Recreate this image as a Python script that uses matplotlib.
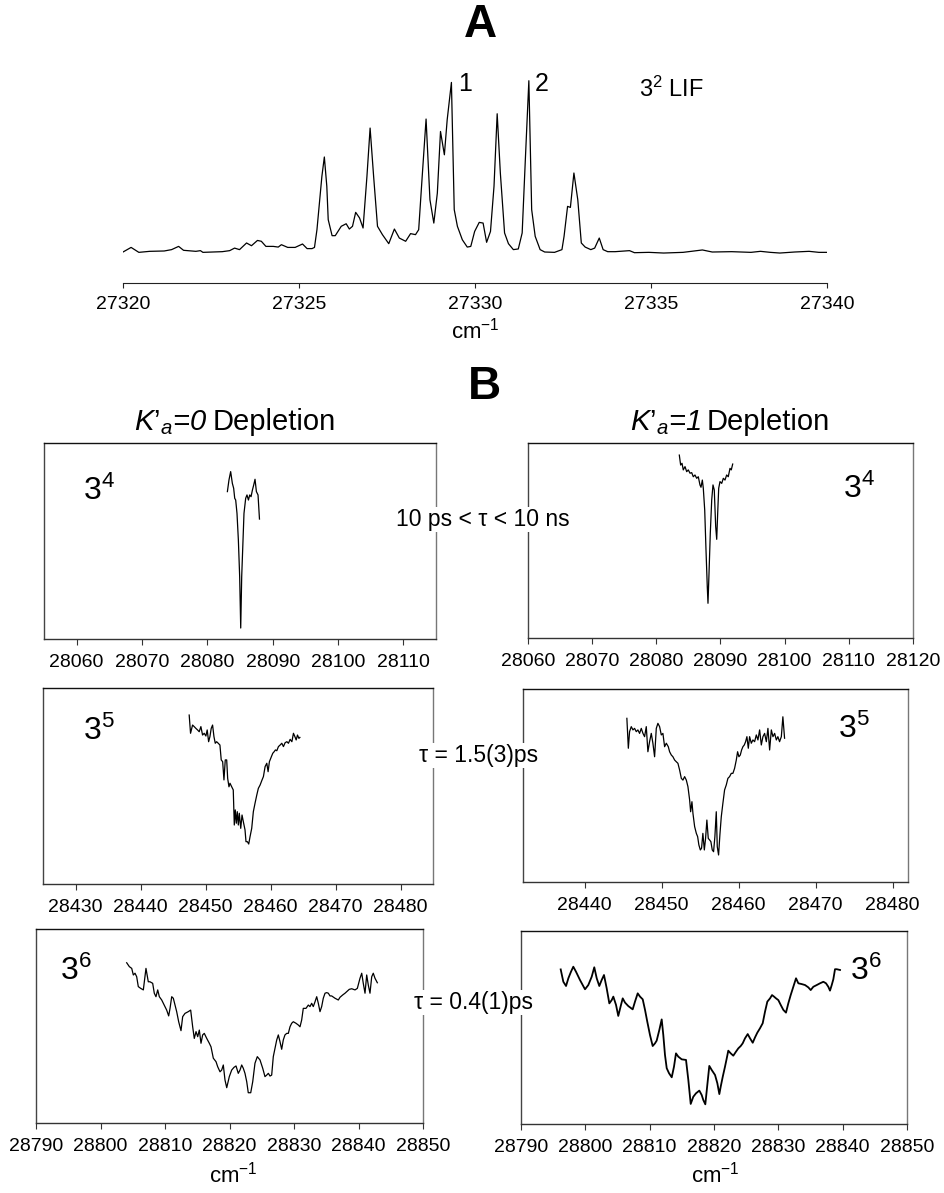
import numpy as np
import matplotlib
matplotlib.use("Agg")
import matplotlib.pyplot as plt

plt.rcParams['font.family'] = ['Liberation Sans', 'DejaVu Sans']
plt.rcParams['mathtext.fontset'] = 'custom'
plt.rcParams['mathtext.rm'] = 'Liberation Sans'
plt.rcParams['mathtext.it'] = 'Liberation Sans:italic'
plt.rcParams['mathtext.bf'] = 'Liberation Sans:bold'

W, H = 945, 1193

# ---- panel A: 3^2 LIF spectrum (cm-1, normalised intensity)
lif_x = [27320.00, 27320.23, 27320.45, 27320.76, 27321.17, 27321.38, 27321.58, 27321.72, 27322.07, 27322.20,
         27322.27, 27322.82, 27323.03, 27323.17, 27323.31, 27323.51, 27323.65, 27323.82, 27323.93, 27324.06,
         27324.27, 27324.41, 27324.50, 27324.68, 27324.89, 27325.10, 27325.23, 27325.37, 27325.44, 27325.51,
         27325.65, 27325.72, 27325.79, 27325.83, 27325.94, 27326.03, 27326.20, 27326.34, 27326.43, 27326.52,
         27326.61, 27326.72, 27326.82, 27326.93, 27327.02, 27327.12, 27327.23, 27327.37, 27327.55, 27327.71,
         27327.85, 27328.03, 27328.17, 27328.31, 27328.40, 27328.50, 27328.61, 27328.72, 27328.83, 27328.93,
         27329.02, 27329.13, 27329.21, 27329.33, 27329.41, 27329.50, 27329.64, 27329.78, 27329.88, 27329.99,
         27330.12, 27330.23, 27330.33, 27330.44, 27330.54, 27330.63, 27330.72, 27330.84, 27330.95, 27331.09,
         27331.23, 27331.34, 27331.43, 27331.53, 27331.61, 27331.71, 27331.85, 27331.98, 27332.26, 27332.47,
         27332.53, 27332.63, 27332.71, 27332.81, 27332.92, 27333.02, 27333.13, 27333.29, 27333.40, 27333.53,
         27333.64, 27333.77, 27333.98, 27334.39, 27334.53, 27334.94, 27335.36, 27335.91, 27336.46, 27336.74,
         27337.29, 27337.84, 27338.11, 27338.39, 27338.66, 27339.08, 27339.49, 27339.77, 27340.00]
lif_y = [0.000, 0.027, -0.002, 0.004, 0.006, 0.014, 0.033, 0.010, 0.004, 0.008,
         -0.002, 0.002, 0.008, 0.023, 0.014, 0.053, 0.037, 0.068, 0.063, 0.033,
         0.033, 0.029, 0.043, 0.027, 0.027, 0.047, 0.020, 0.020, 0.027, 0.131,
         0.444, 0.558, 0.386, 0.190, 0.096, 0.096, 0.151, 0.166, 0.135, 0.151,
         0.233, 0.200, 0.141, 0.444, 0.728, 0.444, 0.151, 0.102, 0.049, 0.135,
         0.082, 0.063, 0.108, 0.102, 0.131, 0.444, 0.781, 0.307, 0.170, 0.346,
         0.708, 0.571, 0.777, 0.996, 0.249, 0.151, 0.072, 0.029, 0.033, 0.121,
         0.174, 0.170, 0.057, 0.121, 0.386, 0.812, 0.464, 0.112, 0.049, 0.014,
         0.018, 0.112, 0.542, 1.006, 0.249, 0.092, 0.014, 0.000, -0.002, 0.014,
         0.092, 0.268, 0.262, 0.464, 0.307, 0.053, 0.029, 0.014, 0.023, 0.082,
         0.014, 0.002, 0.002, 0.008, -0.004, -0.002, -0.006, -0.002, 0.012, 0.000,
         0.002, -0.002, 0.004, -0.002, -0.006, 0.000, 0.004, -0.002, -0.002]
lif_ticks = [27320, 27325, 27330, 27335, 27340]

# ---- panel B: depletion spectra, K'a=0 (left) and K'a=1 (right)
k0_34_x = [28083.07, 28083.31, 28083.57, 28083.83, 28084.03, 28084.19, 28084.34, 28084.54, 28084.75, 28084.95,
           28085.11, 28085.26, 28085.37, 28085.61, 28085.87, 28086.07, 28086.29, 28086.49, 28086.69, 28086.90,
           28087.10, 28087.30, 28087.51, 28087.76, 28087.98]
k0_34_y = [0.752, 0.811, 0.854, 0.794, 0.769, 0.718, 0.709, 0.641, 0.505, 0.318,
           0.056, 0.318, 0.420, 0.641, 0.718, 0.735, 0.709, 0.735, 0.726, 0.760,
           0.786, 0.815, 0.752, 0.735, 0.612]

k1_34_x = [28083.58, 28083.79, 28084.00, 28084.20, 28084.47, 28084.73, 28084.98, 28085.25, 28085.51, 28085.76,
           28086.02, 28086.29, 28086.54, 28086.80, 28086.96, 28087.17, 28087.32, 28087.54, 28087.74, 28087.94,
           28088.05, 28088.21, 28088.41, 28088.63, 28088.83, 28089.03, 28089.25, 28089.41, 28089.56, 28089.72,
           28089.92, 28090.19, 28090.44, 28090.70, 28090.96, 28091.21, 28091.48, 28091.68, 28091.90]
k1_34_y = [0.938, 0.887, 0.896, 0.862, 0.879, 0.853, 0.862, 0.845, 0.848, 0.827,
           0.836, 0.819, 0.827, 0.785, 0.773, 0.810, 0.768, 0.656, 0.451, 0.263,
           0.178, 0.332, 0.537, 0.708, 0.785, 0.759, 0.571, 0.506, 0.639, 0.768,
           0.802, 0.793, 0.819, 0.810, 0.836, 0.827, 0.870, 0.862, 0.892]

k0_35_x = [28447.49, 28447.70, 28448.01, 28448.26, 28448.52, 28448.78, 28449.03, 28449.29, 28449.55, 28449.80,
           28450.06, 28450.26, 28450.48, 28450.68, 28450.88, 28451.09, 28451.30, 28451.50, 28451.71, 28451.96,
           28452.22, 28452.42, 28452.64, 28452.84, 28453.04, 28453.26, 28453.41, 28453.61, 28453.77, 28454.03,
           28454.27, 28454.43, 28454.58, 28454.74, 28454.89, 28455.05, 28455.20, 28455.42, 28455.62, 28455.82,
           28456.08, 28456.23, 28456.44, 28456.65, 28456.85, 28457.11, 28457.36, 28457.62, 28457.89, 28458.13,
           28458.40, 28458.70, 28458.91, 28459.17, 28459.43, 28459.63, 28459.83, 28460.14, 28460.35, 28460.56,
           28460.76, 28460.97, 28461.22, 28461.48, 28461.74, 28461.99, 28462.25, 28462.52, 28462.76, 28463.02,
           28463.29, 28463.53, 28463.75, 28463.95, 28464.15, 28464.37, 28464.52]
k0_35_y = [0.862, 0.769, 0.811, 0.803, 0.794, 0.786, 0.777, 0.803, 0.760, 0.769,
           0.755, 0.786, 0.726, 0.752, 0.794, 0.811, 0.752, 0.718, 0.726, 0.718,
           0.709, 0.633, 0.624, 0.531, 0.633, 0.633, 0.539, 0.496, 0.514, 0.496,
           0.480, 0.301, 0.378, 0.310, 0.369, 0.301, 0.361, 0.284, 0.352, 0.318,
           0.276, 0.216, 0.216, 0.204, 0.241, 0.284, 0.369, 0.412, 0.454, 0.488,
           0.505, 0.531, 0.548, 0.599, 0.616, 0.573, 0.624, 0.650, 0.667, 0.675,
           0.684, 0.680, 0.701, 0.709, 0.718, 0.701, 0.721, 0.726, 0.718, 0.738,
           0.726, 0.769, 0.752, 0.735, 0.760, 0.743, 0.748]

k1_35_x = [28445.49, 28445.68, 28445.84, 28446.06, 28446.28, 28446.49, 28446.71, 28446.92, 28447.14, 28447.36,
           28447.58, 28447.79, 28448.01, 28448.22, 28448.44, 28448.66, 28448.87, 28449.09, 28449.31, 28449.52,
           28449.74, 28449.96, 28450.17, 28450.39, 28450.61, 28450.87, 28451.04, 28451.26, 28451.47, 28451.69,
           28451.91, 28452.12, 28452.34, 28452.56, 28452.77, 28452.99, 28453.21, 28453.42, 28453.64, 28453.77,
           28453.94, 28454.07, 28454.29, 28454.51, 28454.68, 28454.84, 28455.03, 28455.19, 28455.36, 28455.55,
           28455.71, 28455.88, 28456.06, 28456.23, 28456.40, 28456.58, 28456.75, 28456.92, 28457.10, 28457.23,
           28457.40, 28457.57, 28457.75, 28457.96, 28458.18, 28458.40, 28458.61, 28458.83, 28459.05, 28459.26,
           28459.48, 28459.70, 28459.87, 28460.04, 28460.22, 28460.39, 28460.56, 28460.74, 28460.91, 28461.08,
           28461.26, 28461.43, 28461.65, 28461.86, 28462.08, 28462.30, 28462.51, 28462.73, 28462.95, 28463.16,
           28463.38, 28463.60, 28463.81, 28464.03, 28464.25, 28464.46, 28464.68, 28464.90, 28465.10, 28465.32,
           28465.55, 28465.75, 28465.97]
k1_35_y = [0.848, 0.693, 0.779, 0.805, 0.788, 0.796, 0.779, 0.788, 0.770, 0.796,
           0.770, 0.753, 0.805, 0.675, 0.727, 0.770, 0.719, 0.649, 0.796, 0.822,
           0.805, 0.762, 0.770, 0.701, 0.719, 0.701, 0.675, 0.658, 0.649, 0.632,
           0.623, 0.615, 0.580, 0.537, 0.528, 0.546, 0.528, 0.494, 0.425, 0.364,
           0.416, 0.356, 0.287, 0.252, 0.235, 0.192, 0.166, 0.175, 0.252, 0.166,
           0.226, 0.321, 0.226, 0.218, 0.209, 0.166, 0.157, 0.235, 0.364, 0.183,
           0.140, 0.244, 0.338, 0.408, 0.477, 0.503, 0.537, 0.546, 0.563, 0.563,
           0.589, 0.632, 0.675, 0.649, 0.658, 0.684, 0.701, 0.710, 0.727, 0.753,
           0.693, 0.753, 0.719, 0.736, 0.727, 0.762, 0.736, 0.788, 0.710, 0.753,
           0.770, 0.727, 0.796, 0.684, 0.788, 0.753, 0.770, 0.736, 0.753, 0.727,
           0.753, 0.856, 0.745]

k0_36_x = [28804.06, 28804.47, 28804.84, 28805.09, 28805.35, 28805.61, 28805.86, 28806.23, 28806.64, 28807.05,
           28807.41, 28807.67, 28808.09, 28808.34, 28808.60, 28808.87, 28809.12, 28809.49, 28809.74, 28810.00,
           28810.26, 28810.57, 28810.78, 28811.04, 28811.29, 28811.55, 28811.81, 28812.12, 28812.48, 28812.74,
           28813.10, 28813.61, 28813.98, 28814.29, 28814.54, 28814.81, 28815.07, 28815.32, 28815.58, 28815.84,
           28816.09, 28816.47, 28816.87, 28817.13, 28817.49, 28817.91, 28818.17, 28818.53, 28818.79, 28819.04,
           28819.30, 28819.57, 28819.97, 28820.34, 28820.70, 28821.01, 28821.36, 28821.63, 28821.89, 28822.14,
           28822.40, 28822.67, 28822.91, 28823.29, 28823.60, 28823.95, 28824.31, 28824.73, 28825.15, 28825.50,
           28825.77, 28826.02, 28826.28, 28826.54, 28826.79, 28827.05, 28827.32, 28827.57, 28827.83, 28828.09,
           28828.34, 28828.60, 28828.87, 28829.12, 28829.38, 28829.64, 28829.89, 28830.31, 28830.67, 28830.93,
           28831.19, 28831.44, 28831.86, 28832.22, 28832.48, 28832.74, 28832.99, 28833.26, 28833.52, 28833.77,
           28834.03, 28834.29, 28834.54, 28834.81, 28835.07, 28835.32, 28835.58, 28835.84, 28836.36, 28836.87,
           28837.13, 28837.55, 28837.91, 28838.17, 28838.57, 28838.95, 28839.46, 28839.82, 28840.23, 28840.50,
           28840.74, 28841.01, 28841.27, 28841.52, 28841.78, 28842.05, 28842.29, 28842.56, 28842.92]
k0_36_y = [0.826, 0.806, 0.797, 0.763, 0.772, 0.754, 0.703, 0.694, 0.686, 0.797,
           0.728, 0.728, 0.720, 0.669, 0.651, 0.686, 0.651, 0.634, 0.617, 0.600,
           0.582, 0.552, 0.591, 0.651, 0.643, 0.608, 0.574, 0.522, 0.476, 0.548,
           0.565, 0.574, 0.582, 0.496, 0.436, 0.471, 0.445, 0.479, 0.411, 0.454,
           0.462, 0.436, 0.411, 0.393, 0.334, 0.316, 0.290, 0.264, 0.273, 0.299,
           0.222, 0.182, 0.239, 0.273, 0.287, 0.294, 0.256, 0.273, 0.299, 0.282,
           0.256, 0.213, 0.156, 0.156, 0.213, 0.308, 0.342, 0.325, 0.282, 0.239,
           0.247, 0.256, 0.242, 0.247, 0.342, 0.385, 0.428, 0.454, 0.419, 0.380,
           0.428, 0.454, 0.462, 0.462, 0.496, 0.514, 0.522, 0.514, 0.505, 0.496,
           0.531, 0.591, 0.591, 0.608, 0.600, 0.617, 0.600, 0.625, 0.651, 0.617,
           0.574, 0.600, 0.643, 0.669, 0.672, 0.669, 0.655, 0.655, 0.643, 0.634,
           0.648, 0.660, 0.669, 0.677, 0.689, 0.692, 0.686, 0.694, 0.746, 0.772,
           0.720, 0.669, 0.763, 0.711, 0.669, 0.754, 0.772, 0.746, 0.723]

k1_36_x = [28796.17, 28796.58, 28797.00, 28797.36, 28797.77, 28798.13, 28798.55, 28799.17, 28799.95, 28800.46,
           28800.99, 28801.39, 28801.77, 28802.17, 28802.54, 28802.90, 28803.32, 28803.73, 28804.10, 28804.35,
           28804.77, 28805.12, 28805.50, 28805.81, 28806.17, 28806.68, 28807.36, 28807.72, 28808.14, 28808.50,
           28808.92, 28809.28, 28809.63, 28810.05, 28810.47, 28810.83, 28811.09, 28811.50, 28811.87, 28812.12,
           28812.38, 28812.65, 28813.01, 28813.43, 28813.78, 28814.09, 28814.45, 28814.98, 28815.65, 28816.01,
           28816.38, 28816.78, 28817.20, 28817.72, 28818.09, 28818.34, 28818.65, 28818.96, 28819.27, 28819.64,
           28820.16, 28820.52, 28820.83, 28821.04, 28821.36, 28821.71, 28821.98, 28822.22, 28822.60, 28823.00,
           28823.42, 28823.78, 28824.15, 28824.46, 28824.82, 28825.24, 28825.60, 28826.02, 28826.38, 28826.73,
           28827.15, 28827.57, 28827.93, 28828.29, 28828.71, 28829.02, 28829.33, 28829.64, 28830.00, 28830.37,
           28830.78, 28831.19, 28831.55, 28831.92, 28832.33, 28832.75, 28833.11, 28833.63, 28834.15, 28834.66,
           28835.03, 28835.44, 28835.97, 28836.48, 28837.00, 28837.41, 28837.77, 28838.03, 28838.30, 28838.55,
           28838.81, 28839.08, 28839.59]
k1_36_y = [0.801, 0.737, 0.715, 0.755, 0.789, 0.815, 0.789, 0.746, 0.698, 0.720,
           0.763, 0.812, 0.755, 0.715, 0.746, 0.772, 0.703, 0.625, 0.642, 0.660,
           0.617, 0.560, 0.611, 0.651, 0.629, 0.611, 0.594, 0.634, 0.677, 0.660,
           0.646, 0.591, 0.530, 0.461, 0.404, 0.418, 0.432, 0.487, 0.542, 0.461,
           0.358, 0.289, 0.263, 0.242, 0.297, 0.366, 0.349, 0.335, 0.332, 0.228,
           0.104, 0.141, 0.159, 0.173, 0.150, 0.124, 0.102, 0.202, 0.301, 0.280,
           0.254, 0.211, 0.155, 0.193, 0.245, 0.297, 0.340, 0.380, 0.366, 0.354,
           0.375, 0.392, 0.404, 0.418, 0.444, 0.466, 0.444, 0.421, 0.449, 0.473,
           0.496, 0.522, 0.582, 0.634, 0.651, 0.668, 0.660, 0.651, 0.642, 0.617,
           0.591, 0.577, 0.625, 0.668, 0.711, 0.755, 0.729, 0.725, 0.720, 0.708,
           0.694, 0.711, 0.720, 0.729, 0.737, 0.729, 0.711, 0.691, 0.720, 0.750,
           0.802, 0.802, 0.798]

ticks_34_l = [28060, 28070, 28080, 28090, 28100, 28110]
ticks_34_r = [28060, 28070, 28080, 28090, 28100, 28110, 28120]
ticks_35_l = [28430, 28440, 28450, 28460, 28470, 28480]
ticks_35_r = [28440, 28450, 28460, 28470, 28480]
ticks_36 = [28790, 28800, 28810, 28820, 28830, 28840, 28850]


def box(x0, y0, x1, y1):
    # pixel box -> figure fraction rect
    return [x0 / W, 1 - y1 / H, (x1 - x0) / W, (y1 - y0) / H]


def fxy(px, py):
    return px / W, 1 - py / H


fig = plt.figure(figsize=(W / 100, H / 100), dpi=100)

# panel A
axA = fig.add_axes(box(123, 70, 827, 283))
axA.plot(lif_x, lif_y, color='black', lw=0.9)
axA.set_xlim(27320, 27340)
axA.set_ylim(-0.182, 1.069)
axA.set_xticks(lif_ticks)
axA.set_yticks([])
for s in ['left', 'right', 'top']:
    axA.spines[s].set_visible(False)
axA.spines['bottom'].set_color('#222222')
axA.tick_params(axis='x', direction='out', length=3.5, width=0.8, labelsize=14, pad=6, color='#222222')
axA.text(27329.52, 0.985, '1', fontsize=18, ha='left', va='center')
axA.text(27331.70, 0.985, '2', fontsize=18, ha='left', va='center')
axA.text(27334.65, 0.955, r'3$^2$ LIF', fontsize=17, ha='left', va='center')

fig.text(*fxy(475, 338), r'cm$^{-1}$', fontsize=16, ha='center', va='baseline')
fig.text(*fxy(480, 25), 'A', fontsize=33, fontweight='bold', ha='center', va='center')
fig.text(*fxy(484, 387), 'B', fontsize=33, fontweight='bold', ha='center', va='center')

# panel B
panels = [
    (box(44, 443, 436, 639), k0_34_x, k0_34_y, (28055, 28115), ticks_34_l, r'3$^4$', (83, 500), 0.9),
    (box(43, 688, 433, 884), k0_35_x, k0_35_y, (28425, 28485), ticks_35_l, r'3$^5$', (83, 740), 0.9),
    (box(36, 929, 423, 1123), k0_36_x, k0_36_y, (28790, 28850), ticks_36, r'3$^6$', (60, 980), 0.9),
    (box(528, 443, 913, 638), k1_34_x, k1_34_y, (28060, 28120), ticks_34_r, r'3$^4$', (843, 498), 0.9),
    (box(523, 689, 908, 882), k1_35_x, k1_35_y, (28432, 28482), ticks_35_r, r'3$^5$', (838, 738), 0.9),
    (box(521, 931, 907, 1124), k1_36_x, k1_36_y, (28790, 28850), ticks_36, r'3$^6$', (850, 980), 1.3),
]

for rect, xs, ys, xl, tk, lab, lpos, lw in panels:
    ax = fig.add_axes(rect)
    ax.plot(xs, ys, color='black', lw=lw)
    ax.set_xlim(*xl)
    ax.set_ylim(0, 1)
    ax.set_xticks(tk)
    ax.set_yticks([])
    ax.spines['top'].set_color('#111111')
    ax.spines['bottom'].set_color('#333333')
    ax.spines['left'].set_color('#444444')
    ax.spines['right'].set_color('#777777')
    for s in ax.spines.values():
        s.set_linewidth(1.0)
    ax.tick_params(axis='x', direction='out', length=4, width=0.8, labelsize=14, pad=7, color='#333333')
    fig.text(*fxy(*lpos), lab, fontsize=23, ha='left', va='baseline')

# column titles: italic K'a part, then upright "Depletion"
for dx, k in [(213, '0'), (707, '1')]:
    fig.text(*fxy(dx - 6, 430), "$K\u2019_a$=" + k, fontsize=21, style='italic',
             ha='right', va='baseline')
    fig.text(*fxy(dx, 430), 'Depletion', fontsize=21, ha='left', va='baseline')

# lifetimes, white background breaks the frames
wb = dict(facecolor='white', edgecolor='none', pad=1.0)
fig.text(*fxy(483, 526), u'10 ps < \u03c4 < 10 ns', fontsize=16.5, ha='center', va='baseline', bbox=wb)
fig.text(*fxy(479, 762), u'\u03c4 = 1.5(3)ps', fontsize=16.5, ha='center', va='baseline', bbox=wb)
fig.text(*fxy(474, 1009), u'\u03c4 = 0.4(1)ps', fontsize=16.5, ha='center', va='baseline', bbox=wb)

fig.text(*fxy(233, 1182), r'cm$^{-1}$', fontsize=16, ha='center', va='baseline')
fig.text(*fxy(715, 1182), r'cm$^{-1}$', fontsize=16, ha='center', va='baseline')

fig.savefig('out.png', dpi=100)
